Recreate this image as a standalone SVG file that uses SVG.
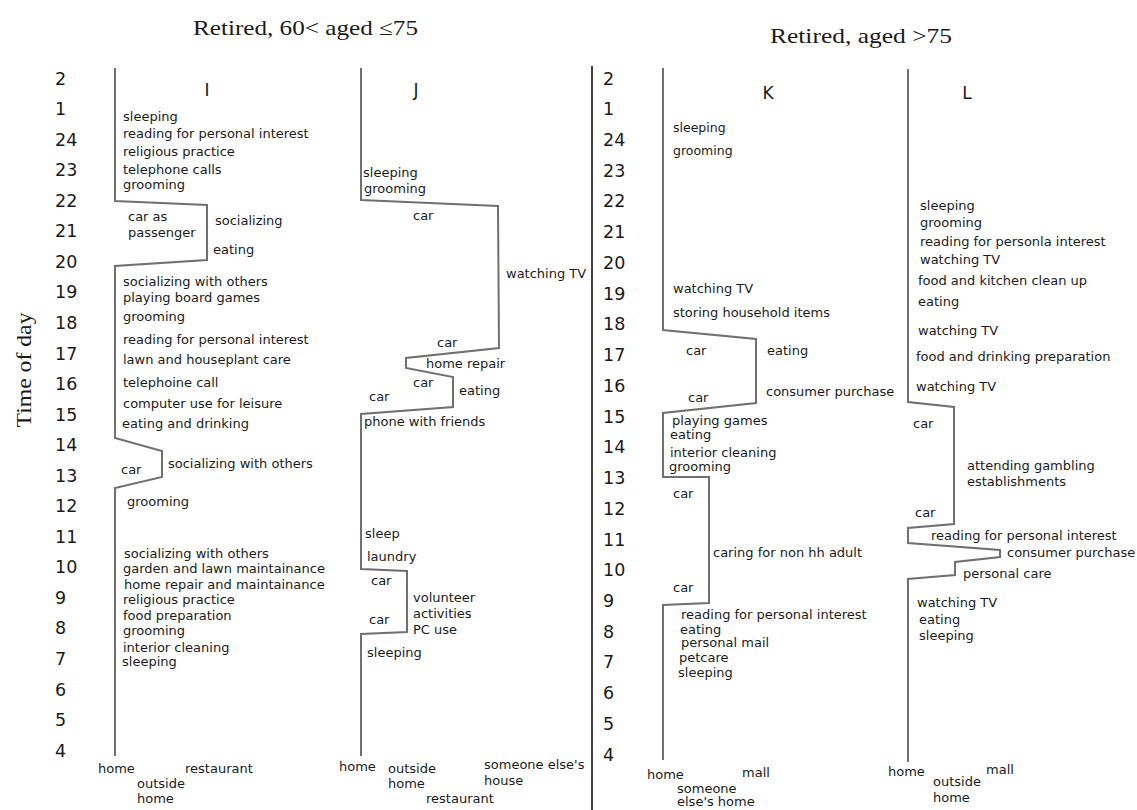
<svg xmlns="http://www.w3.org/2000/svg" width="1137" height="810" viewBox="0 0 1137 810">
<style>
.t{font-family:"DejaVu Sans",Verdana,sans-serif;font-size:13px;fill:#1a1a1a}
.s{font-size:12.5px}
.n{font-family:"DejaVu Sans",Verdana,sans-serif;font-size:17.5px;fill:#1a1a1a}
.h{font-family:"DejaVu Sans",Verdana,sans-serif;font-size:17px;fill:#1a1a1a;text-anchor:middle}
.ttl{font-family:"Liberation Serif","DejaVu Serif",serif;font-size:21px;fill:#1a1a1a}
.ln{fill:none;stroke:#707070;stroke-width:2;stroke-linejoin:miter}
</style>
<rect width="1137" height="810" fill="#fff"/>
<g id="titles">
<text class="ttl" x="193" y="35" textLength="225" lengthAdjust="spacingAndGlyphs">Retired, 60&lt; aged ≤75</text>
<text class="ttl" x="770" y="43" textLength="182" lengthAdjust="spacingAndGlyphs">Retired, aged &gt;75</text>
<text class="ttl" transform="translate(31,370) rotate(-90)" text-anchor="middle" textLength="115" lengthAdjust="spacingAndGlyphs">Time of day</text>
</g>
<g id="axis-left" class="n">
<text x="55" y="84.5">2</text><text x="55" y="115">1</text><text x="55" y="145.6">24</text><text x="55" y="176.2">23</text><text x="55" y="206.7">22</text><text x="55" y="237.3">21</text><text x="55" y="267.8">20</text><text x="55" y="298.4">19</text><text x="55" y="328.9">18</text><text x="55" y="359.5">17</text><text x="55" y="390">16</text><text x="55" y="420.6">15</text><text x="55" y="451.1">14</text><text x="55" y="481.7">13</text><text x="55" y="512.2">12</text><text x="55" y="542.8">11</text><text x="55" y="573.3">10</text><text x="55" y="603.9">9</text><text x="55" y="634.4">8</text><text x="55" y="665">7</text><text x="55" y="695.5">6</text><text x="55" y="726.1">5</text><text x="55" y="756.6">4</text>
</g>
<g id="axis-right" class="n">
<text x="603" y="84.5">2</text><text x="603" y="115.2">1</text><text x="603" y="146">24</text><text x="603" y="176.7">23</text><text x="603" y="207.4">22</text><text x="603" y="238.2">21</text><text x="603" y="268.9">20</text><text x="603" y="299.6">19</text><text x="603" y="330.3">18</text><text x="603" y="361.1">17</text><text x="603" y="391.8">16</text><text x="603" y="422.5">15</text><text x="603" y="453.3">14</text><text x="603" y="484">13</text><text x="603" y="514.7">12</text><text x="603" y="545.5">11</text><text x="603" y="576.2">10</text><text x="603" y="606.9">9</text><text x="603" y="637.6">8</text><text x="603" y="668.4">7</text><text x="603" y="699.1">6</text><text x="603" y="729.8">5</text><text x="603" y="760.6">4</text>
</g>
<g id="connectors">
<line x1="592" y1="66" x2="592" y2="810" stroke="#000" stroke-width="1.5"/>
<path class="ln" d="M115,68 L115,201 L207,205 L207,260 L115,266 L115,438 L162,451 L162,477 L115,488 L115,756"/>
<path class="ln" d="M361,68 L361,200 L498,206 L499,348 L406,358 L406,368 L453,377 L453,407 L361,414 L361,569 L407,571 L407,632 L361,634 L361,756"/>
<path class="ln" d="M663,68 L663,330 L756,339 L756,403 L663,413 L663,477 L709,477 L709,603 L663,605 L663,760"/>
<path class="ln" d="M908,69 L908,402 L954,407 L954,524 L908,528 L908,543 L1000,550 L1000,557 L955,562 L955,575 L908,579 L908,762"/>
</g>
<g id="panel-I" class="t">
<text class="h" x="207" y="96">I</text>
<text x="123" y="121">sleeping</text>
<text x="123" y="138">reading for personal interest</text>
<text x="123" y="156">religious practice</text>
<text x="123" y="174">telephone calls</text>
<text x="123" y="189">grooming</text>
<text x="128" y="221">car as</text>
<text x="128" y="237">passenger</text>
<text x="215" y="225">socializing</text>
<text x="213" y="254">eating</text>
<text x="123" y="286">socializing with others</text>
<text x="123" y="302">playing board games</text>
<text x="123" y="321">grooming</text>
<text x="123" y="344">reading for personal interest</text>
<text x="123" y="364">lawn and houseplant care</text>
<text x="123" y="387">telephoine call</text>
<text x="123" y="408">computer use for leisure</text>
<text x="122" y="428">eating and drinking</text>
<text x="168" y="468">socializing with others</text>
<text x="121" y="474">car</text>
<text x="127" y="506">grooming</text>
<text x="124" y="558">socializing with others</text>
<text x="123" y="573">garden and lawn maintainance</text>
<text x="124" y="589">home repair and maintainance</text>
<text x="123" y="604">religious practice</text>
<text x="123" y="620">food preparation</text>
<text x="123" y="635">grooming</text>
<text x="123" y="652">interior cleaning</text>
<text x="122" y="666">sleeping</text>
<text x="98" y="773">home</text>
<text x="185" y="773">restaurant</text>
<text x="137" y="788">outside</text>
<text x="137" y="803">home</text>
</g>
<g id="panel-J" class="t">
<text class="h" x="416" y="96">J</text>
<text x="363" y="177">sleeping</text>
<text x="364" y="193">grooming</text>
<text x="413" y="220">car</text>
<text x="506" y="278">watching TV</text>
<text x="437" y="347">car</text>
<text x="426" y="368">home repair</text>
<text x="413" y="387">car</text>
<text x="459" y="395">eating</text>
<text x="369" y="401">car</text>
<text x="364" y="426">phone with friends</text>
<text x="365" y="538">sleep</text>
<text x="367" y="561">laundry</text>
<text x="371" y="585">car</text>
<text x="413" y="602">volunteer</text>
<text x="413" y="618">activities</text>
<text x="413" y="634">PC use</text>
<text x="369" y="624">car</text>
<text x="367" y="657">sleeping</text>
<text x="339" y="771">home</text>
<text x="388" y="773">outside</text>
<text x="388" y="788">home</text>
<text x="484" y="769">someone else's</text>
<text x="484" y="785">house</text>
<text x="426" y="803">restaurant</text>
</g>
<g id="panel-K" class="t">
<text class="h" x="768" y="99">K</text>
<text class="s" x="673" y="132">sleeping</text>
<text class="s" x="673" y="155">grooming</text>
<text x="673" y="293">watching TV</text>
<text x="673" y="317">storing household items</text>
<text x="686" y="355">car</text>
<text x="767" y="355">eating</text>
<text x="688" y="402">car</text>
<text x="766" y="396">consumer purchase</text>
<text x="672" y="425">playing games</text>
<text x="670" y="439">eating</text>
<text x="670" y="457">interior cleaning</text>
<text x="669" y="471">grooming</text>
<text x="673" y="498">car</text>
<text x="713" y="557">caring for non hh adult</text>
<text x="673" y="592">car</text>
<text x="681" y="619">reading for personal interest</text>
<text x="680" y="634">eating</text>
<text x="681" y="647">personal mail</text>
<text x="679" y="662">petcare</text>
<text x="678" y="677">sleeping</text>
<text x="647" y="779">home</text>
<text x="742" y="777">mall</text>
<text x="677" y="793">someone</text>
<text x="677" y="806">else's home</text>
</g>
<g id="panel-L" class="t">
<text class="h" x="967" y="99">L</text>
<text x="920" y="210">sleeping</text>
<text x="920" y="227">grooming</text>
<text x="920" y="246">reading for personla interest</text>
<text x="920" y="264">watching TV</text>
<text x="918" y="285">food and kitchen clean up</text>
<text x="918" y="306">eating</text>
<text x="918" y="335">watching TV</text>
<text x="916" y="361">food and drinking preparation</text>
<text x="916" y="391">watching TV</text>
<text x="913" y="428">car</text>
<text x="967" y="470">attending gambling</text>
<text x="967" y="486">establishments</text>
<text x="915" y="517">car</text>
<text x="931" y="540">reading for personal interest</text>
<text x="1007" y="557">consumer purchase</text>
<text x="963" y="578">personal care</text>
<text x="917" y="607">watching TV</text>
<text x="919" y="624">eating</text>
<text x="919" y="640">sleeping</text>
<text x="888" y="776">home</text>
<text x="933" y="786">outside</text>
<text x="933" y="802">home</text>
<text x="986" y="774">mall</text>
</g>
</svg>
